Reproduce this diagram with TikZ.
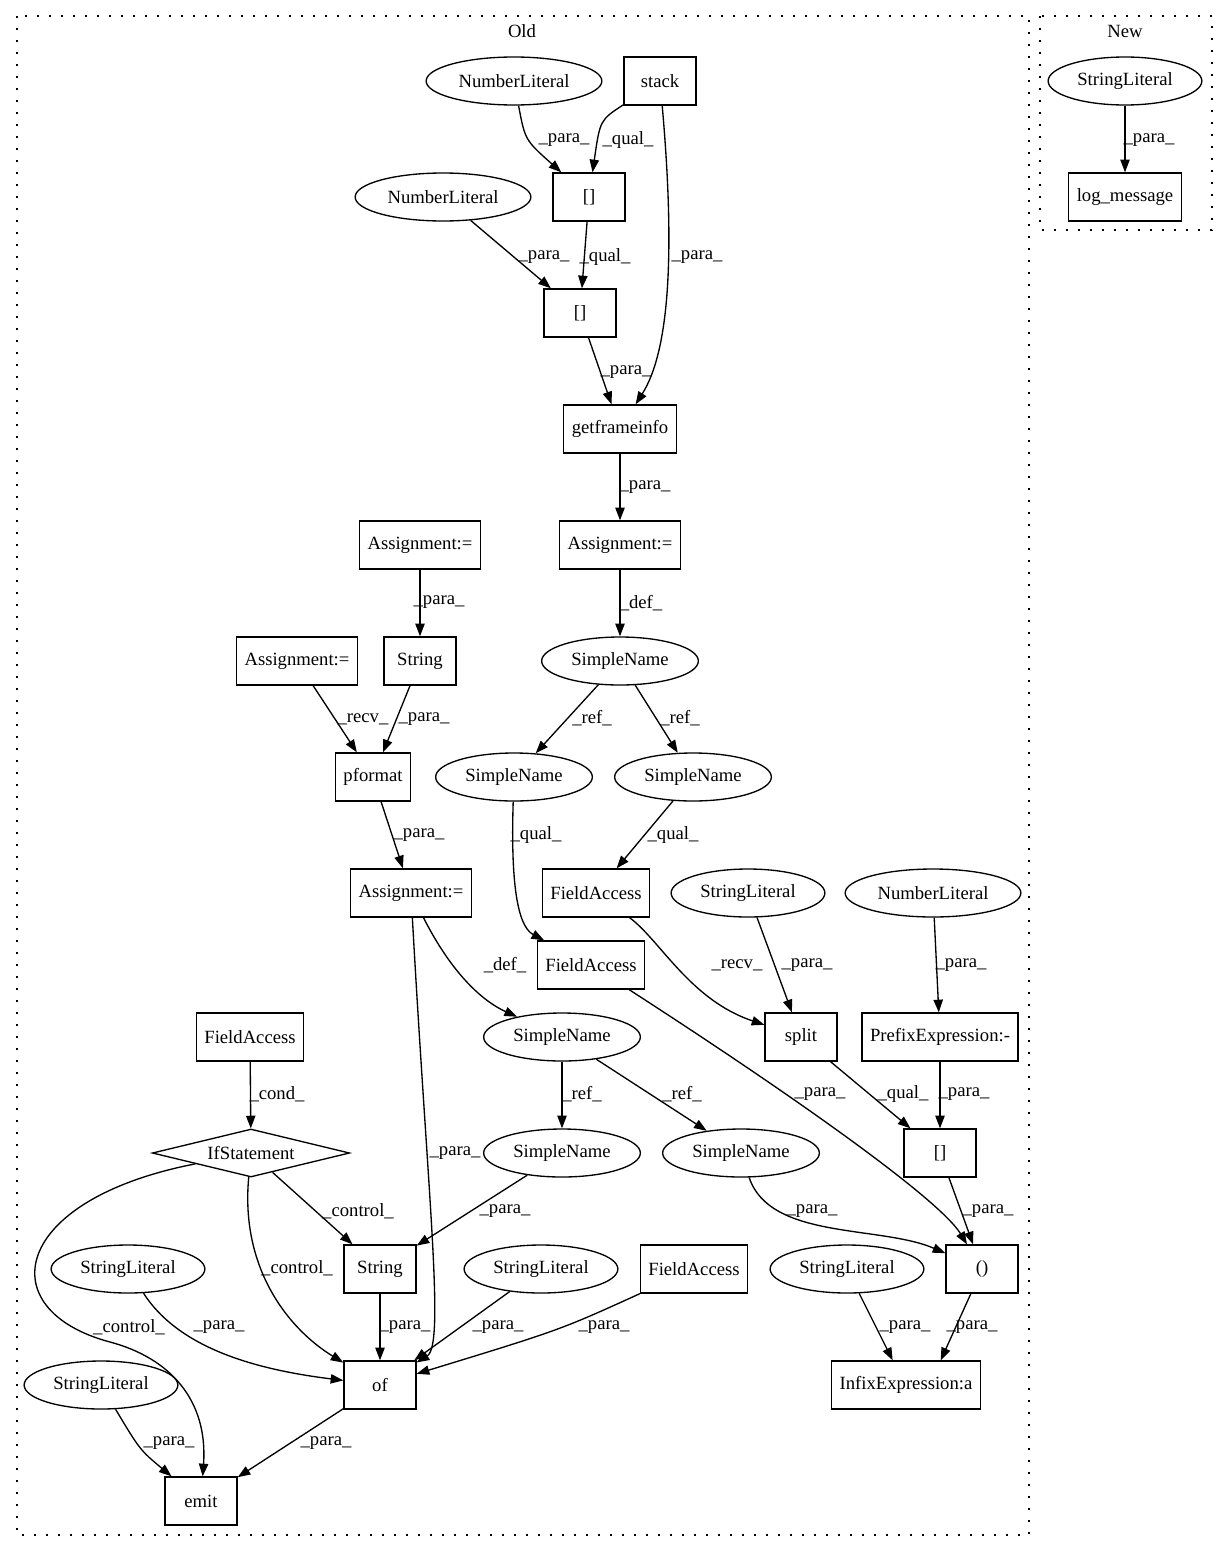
\documentclass[tikz,border=0pt]{standalone}
\usepackage{fontspec}
\setmainfont{Liberation Serif}
\usetikzlibrary{shapes.geometric,arrows.meta}
\tikzset{
  texto/.style={font=\fontsize{14}{16}\selectfont},
  caja/.style={texto,draw,line width=1pt,rectangle,minimum width=54pt,minimum height=36pt,inner xsep=6pt},
  elipse/.style={texto,draw,line width=1pt,ellipse,minimum height=36pt,inner xsep=5pt,inner ysep=2pt},
  rombo/.style={texto,draw,line width=1pt,diamond,aspect=4.1,minimum width=148pt,minimum height=36pt,inner sep=0pt},
  flecha/.style={-{Triangle[length=9.5pt,width=7pt]},line width=1pt},
  etiqueta/.style={texto,inner sep=0pt},
  grupo/.style={line width=1pt,dash pattern=on 1.5pt off 7.5pt},
}
\begin{document}
\begin{tikzpicture}[x=0.75pt,y=-0.75pt]
  \useasboundingbox (0,0) rectangle (1227,1552);
  \draw[grupo] (17,16) rectangle (1029,1535);
  \draw[grupo] (1040,16) rectangle (1212,230);
  \node[etiqueta] (old) at (522,31) {Old};
  \node[etiqueta] (new) at (1125,31) {New};

  \node[elipse] (nl1) at (514,81) {NumberLiteral};
  \node[caja] (stack) at (660,81) {stack};
  \node[caja] (idxa) at (589,197) {[]};
  \node[elipse] (nl2) at (443,197) {NumberLiteral};
  \node[caja] (idxb) at (580,313) {[]};
  \node[caja] (gfi) at (620,429) {getframeinfo};
  \node[caja] (asga) at (620,545) {Assignment:=};
  \node[elipse] (sna) at (620,661) {SimpleName};
  \node[elipse] (snb) at (514,777) {SimpleName};
  \node[elipse] (snc) at (693,777) {SimpleName};
  \node[caja] (faa) at (596,893) {FieldAccess};
  \node[caja] (fab) at (591,965) {FieldAccess};
  \node[elipse] (sla) at (748,893) {StringLiteral};
  \node[elipse] (nl3) at (933,893) {NumberLiteral};
  \node[caja] (split) at (801,1037) {split};
  \node[caja] (prefix) at (940,1037) {PrefixExpression:-};
  \node[caja] (idxc) at (940,1153) {[]};
  \node[caja] (paren) at (982,1269) {()};
  \node[elipse] (slb) at (847,1269) {StringLiteral};
  \node[caja] (infix) at (906,1385) {InfixExpression:a};
  \node[caja] (asgb) at (420,545) {Assignment:=};
  \node[caja] (stra) at (420,661) {String};
  \node[caja] (asgc) at (297,661) {Assignment:=};
  \node[caja] (pformat) at (373,777) {pformat};
  \node[caja] (asgd) at (411,893) {Assignment:=};
  \node[elipse] (snd) at (562,1037) {SimpleName};
  \node[elipse] (sne) at (562,1153) {SimpleName};
  \node[elipse] (snf) at (741,1153) {SimpleName};
  \node[caja] (fac) at (250,1037) {FieldAccess};
  \node[rombo] (ifst) at (251,1153) {IfStatement};
  \node[caja] (strb) at (380,1269) {String};
  \node[elipse] (slc) at (541,1269) {StringLiteral};
  \node[caja] (fad) at (694,1269) {FieldAccess};
  \node[elipse] (sld) at (128,1269) {StringLiteral};
  \node[elipse] (sle) at (101,1385) {StringLiteral};
  \node[caja] (of) at (380,1385) {of};
  \node[caja] (emit) at (201,1501) {emit};
  \node[elipse] (sln) at (1125,81) {StringLiteral};
  \node[caja] (logm) at (1125,197) {log\_message};

  \draw[flecha] (nl1) .. controls (525,140) .. (idxa);
  \draw[flecha] (stack) .. controls (600,120) .. (idxa);
  \draw[flecha] (stack) .. controls (675,250) and (670,350) .. (gfi);
  \draw[flecha] (nl2) -- (idxb);
  \draw[flecha] (idxa) -- (idxb);
  \draw[flecha] (idxb) -- (gfi);
  \draw[flecha] (gfi) -- (asga);
  \draw[flecha] (asga) -- (sna);
  \draw[flecha] (sna) -- (snb);
  \draw[flecha] (sna) -- (snc);
  \draw[flecha] (snb) .. controls (511,870) and (515,925) .. (fab);
  \draw[flecha] (snc) -- (faa);
  \draw[flecha] (faa) .. controls (660,940) and (690,1000) .. (split);
  \draw[flecha] (sla) -- (split);
  \draw[flecha] (fab) .. controls (800,1100) and (940,1200) .. (paren);
  \draw[flecha] (nl3) -- (prefix);
  \draw[flecha] (split) -- (idxc);
  \draw[flecha] (prefix) -- (idxc);
  \draw[flecha] (idxc) -- (paren);
  \draw[flecha] (snf) .. controls (770,1240) and (880,1225) .. (paren);
  \draw[flecha] (slb) -- ([xshift=-10pt]infix.north);
  \draw[flecha] (paren) -- ([xshift=26pt]infix.north);
  \draw[flecha] (asgb) -- (stra);
  \draw[flecha] (asgc) -- (pformat);
  \draw[flecha] (stra) -- (pformat);
  \draw[flecha] (pformat) -- (asgd);
  \draw[flecha] (asgd) .. controls (450,970) and (480,1000) .. (snd);
  \draw[flecha] (asgd) .. controls (428,1200) and (445,1345) .. (of);
  \draw[flecha] (snd) -- (sne);
  \draw[flecha] (snd) -- (snf);
  \draw[flecha] (sne) -- (strb);
  \draw[flecha] (fac) -- (ifst);
  \draw[flecha] (ifst) -- (strb);
  \draw[flecha] (ifst) .. controls (240,1270) and (290,1330) .. (of);
  \draw[flecha] (ifst) .. controls (10,1200) and (-10,1310) .. (110,1342) .. controls (170,1358) and (208,1400) .. (emit);
  \draw[flecha] (strb) -- (of);
  \draw[flecha] (slc) -- (of);
  \draw[flecha] (fad) .. controls (560,1330) .. (of);
  \draw[flecha] (sld) .. controls (180,1350) and (260,1370) .. (of);
  \draw[flecha] (sle) .. controls (140,1450) .. (emit);
  \draw[flecha] (of) -- (emit);
  \draw[flecha] (sln) -- (logm);

  \node[etiqueta] at (564,140) {\_para\_};
  \node[etiqueta] at (628,140) {\_qual\_};
  \node[etiqueta] at (544,257) {\_para\_};
  \node[etiqueta] at (605,257) {\_qual\_};
  \node[etiqueta] at (697,257) {\_para\_};
  \node[etiqueta] at (626,372) {\_para\_};
  \node[etiqueta] at (645,487) {\_para\_};
  \node[etiqueta] at (641,603) {\_def\_};
  \node[etiqueta] at (592,718) {\_ref\_};
  \node[etiqueta] at (680,718) {\_ref\_};
  \node[etiqueta] at (536,835) {\_qual\_};
  \node[etiqueta] at (673,835) {\_qual\_};
  \node[etiqueta] at (505,965) {\_def\_};
  \node[etiqueta] at (737,965) {\_recv\_};
  \node[etiqueta] at (807,965) {\_para\_};
  \node[etiqueta] at (961,965) {\_para\_};
  \node[etiqueta] at (582,1094) {\_ref\_};
  \node[etiqueta] at (682,1094) {\_ref\_};
  \node[etiqueta] at (820,1094) {\_para\_};
  \node[etiqueta] at (903,1094) {\_qual\_};
  \node[etiqueta] at (964,1094) {\_para\_};
  \node[etiqueta] at (505,1211) {\_para\_};
  \node[etiqueta] at (812,1211) {\_para\_};
  \node[etiqueta] at (988,1211) {\_para\_};
  \node[etiqueta] at (498,1327) {\_para\_};
  \node[etiqueta] at (604,1327) {\_para\_};
  \node[etiqueta] at (905,1327) {\_para\_};
  \node[etiqueta] at (972,1327) {\_para\_};
  \node[etiqueta] at (439,602) {\_para\_};
  \node[etiqueta] at (363,719) {\_recv\_};
  \node[etiqueta] at (424,719) {\_para\_};
  \node[etiqueta] at (419,835) {\_para\_};
  \node[etiqueta] at (277,1094) {\_cond\_};
  \node[etiqueta] at (455,1153) {\_para\_};
  \node[etiqueta] at (358,1211) {\_control\_};
  \node[etiqueta] at (297,1268) {\_control\_};
  \node[etiqueta] at (129,1327) {\_control\_};
  \node[etiqueta] at (219,1327) {\_para\_};
  \node[etiqueta] at (405,1327) {\_para\_};
  \node[etiqueta] at (169,1443) {\_para\_};
  \node[etiqueta] at (326,1443) {\_para\_};
  \node[etiqueta] at (1149,140) {\_para\_};
\end{tikzpicture}
\end{document}
